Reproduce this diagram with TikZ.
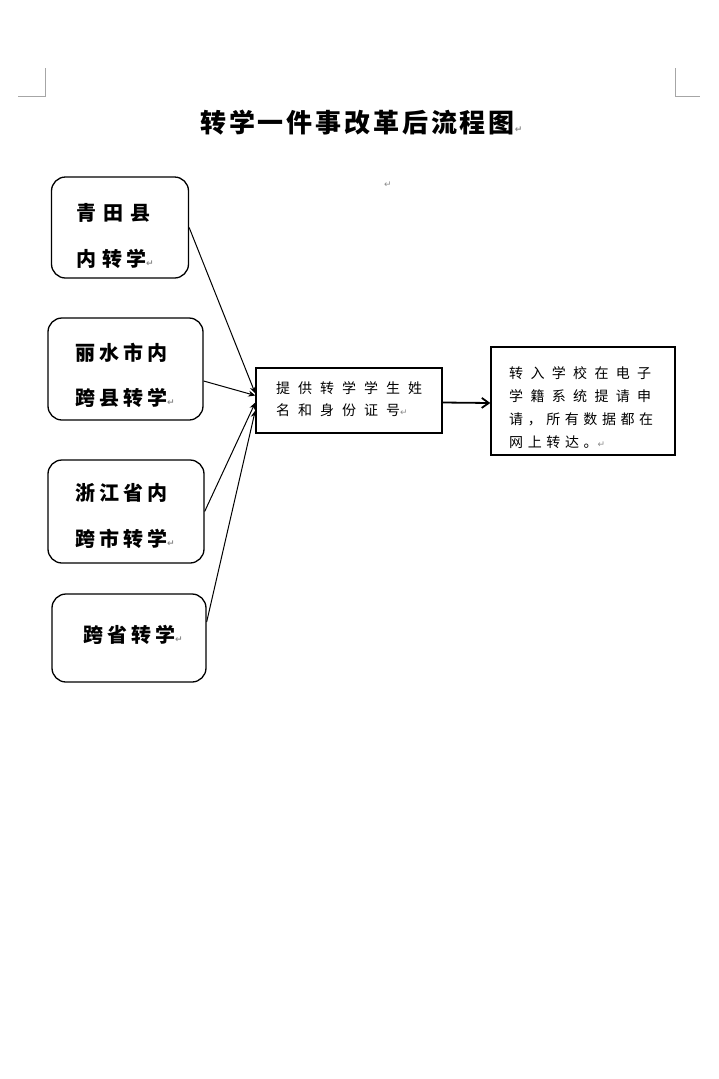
\documentclass[tikz,border=0pt]{standalone}
\usepackage{fontspec}
\usetikzlibrary{arrows.meta}
\newfontfamily\cjk{Noto Sans CJK SC}
\newfontfamily\dejavu{DejaVu Sans}
\newcommand\retmark{{\dejavu\fontsize{9}{9}\selectfont\color{black!45}\char"21B5}}
\begin{document}
\begin{tikzpicture}[x=1pt,y=-1pt,
  box/.style={draw=black,line width=1.3pt,rounded corners=14pt,inner sep=0pt},
  sqbox/.style={draw=black,line width=1.4pt,inner sep=0pt},
  bigtxt/.style={anchor=base west,inner sep=0pt,font=\cjk\bfseries\fontsize{20}{20}\selectfont\addfontfeatures{LetterSpace=20}},
  midtxt/.style={anchor=base west,inner sep=0pt,font=\cjk\fontsize{14}{14}\selectfont\addfontfeatures{LetterSpace=57}},
  rtxt/.style={anchor=base west,inner sep=0pt,font=\cjk\fontsize{14}{14}\selectfont\addfontfeatures{LetterSpace=33}},
  conn/.style={draw=black,line width=1pt,-{Stealth[length=7pt,width=6pt]}},
  corner/.style={draw=black!35,line width=1pt}]
\useasboundingbox (0,0) rectangle (719,1079);
\fill[white] (0,0) rectangle (719,1079);
% page corner marks
\draw[corner] (18,96) -- (45,96) -- (45,68);
\draw[corner] (675,68) -- (675,96) -- (700,96);
% title
\node[anchor=base west,inner sep=0pt,font=\cjk\bfseries\fontsize{26}{26}\selectfont\addfontfeatures{LetterSpace=11}] (title) at (200,132) {转学一件事改革后流程图\retmark};
\node[inner sep=0pt] (stray) at (388,185) {\retmark};
% left boxes
\node[box,minimum width=137pt,minimum height=101pt] (b1) at (120,227.5) {};
\node[box,minimum width=155pt,minimum height=102pt] (b2) at (125.5,369) {};
\node[box,minimum width=156pt,minimum height=103pt] (b3) at (126,511.5) {};
\node[box,minimum width=154pt,minimum height=88pt] (b4) at (129,638) {};
\node[bigtxt] (t1a) at (76,220.6) {青\kern7pt 田\kern7pt 县};
\node[bigtxt] (t1b) at (76,266.6) {内\kern6pt 转学\retmark};
\node[bigtxt] (t2a) at (75,360.6) {丽水市内};
\node[bigtxt] (t2b) at (75,405.6) {跨县转学\retmark};
\node[bigtxt] (t3a) at (75,500.6) {浙江省内};
\node[bigtxt] (t3b) at (75,546.6) {跨市转学\retmark};
\node[bigtxt] (t4) at (83,642.6) {跨省转学\retmark};
% middle box
\node[sqbox,minimum width=186pt,minimum height=65pt] (m) at (349,400.5) {};
\node[midtxt] (m1) at (276,393.3) {提供转学学生姓};
\node[midtxt] (m2) at (276,415.3) {名和身份证号\retmark};
% right box
\node[sqbox,minimum width=184pt,minimum height=108pt] (r) at (583,401) {};
\node[rtxt] (r1) at (509,378.3) {\makebox[142pt][s]{转\hfill 入\hfill 学\hfill 校\hfill 在\hfill 电\hfill 子}};
\node[rtxt] (r2) at (509,401.3) {\makebox[142pt][s]{学\hfill 籍\hfill 系\hfill 统\hfill 提\hfill 请\hfill 申}};
\node[rtxt] (r3) at (509,424.3) {\makebox[144pt][s]{请\hfill ，\hfill 所\hfill 有\hfill 数\hfill 据\hfill 都\hfill 在}};
\node[rtxt] (r4) at (509,447.3) {网上转达。\retmark};
% connectors
\draw[conn] (b1.east) -- ([yshift=7pt]m.west);
\draw[conn] ([yshift=-12pt]b2.east) -- ([yshift=5pt]m.west);
\draw[conn] (b3.east) -- ([yshift=-2pt]m.west);
\draw[conn] ([yshift=16pt]b4.east) -- ([yshift=-10pt]m.west);
\draw[draw=black,line width=1.8pt,-{Straight Barb[length=7pt,width=10pt]}] ([yshift=-2pt]m.east) -- ([yshift=-2pt]r.west);
\end{tikzpicture}
\end{document}
